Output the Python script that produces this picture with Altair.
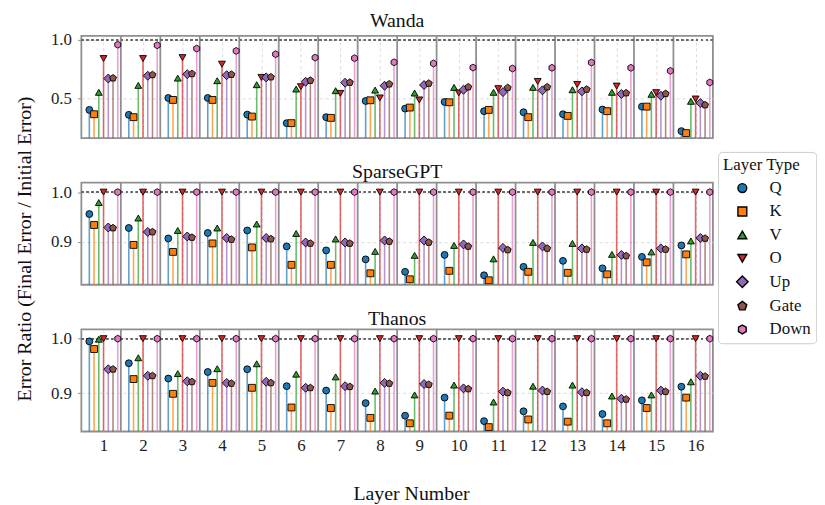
import altair as alt
import pandas as pd

# ---------------- data ----------------
layers = list(range(1, 17))
layer_types = ["Q", "K", "V", "O", "Up", "Gate", "Down"]
type_colors = ["#1f77b4", "#ff7f0e", "#2ca02c", "#d62728", "#9467bd", "#8c564b", "#e377c2"]
DIAMOND = "M0,-1.3L1.3,0L0,1.3L-1.3,0Z"
PENTAGON = "M0,-1.05L1.0,-0.32L0.62,0.85L-0.62,0.85L-1.0,-0.32Z"
HEXAGON = "M0,-1L0.866,-0.5L0.866,0.5L0,1L-0.866,0.5L-0.866,-0.5Z"
type_shapes = ["circle", "square", "triangle-up", "triangle-down", DIAMOND, PENTAGON, HEXAGON]

wanda_q = [0.404, 0.362, 0.506, 0.506, 0.364, 0.291, 0.342, 0.480, 0.415, 0.472, 0.393, 0.384, 0.367, 0.407, 0.432, 0.223]
wanda_k = [0.367, 0.342, 0.489, 0.489, 0.347, 0.291, 0.336, 0.486, 0.424, 0.469, 0.404, 0.342, 0.353, 0.393, 0.432, 0.206]
wanda_v = [0.554, 0.613, 0.675, 0.653, 0.619, 0.582, 0.568, 0.573, 0.548, 0.596, 0.554, 0.596, 0.576, 0.554, 0.537, 0.477]
wanda_o = [0.842, 0.842, 0.850, 0.794, 0.681, 0.602, 0.545, 0.506, 0.489, 0.548, 0.585, 0.647, 0.621, 0.607, 0.551, 0.497]
wanda_up = [0.672, 0.695, 0.709, 0.700, 0.681, 0.644, 0.636, 0.610, 0.616, 0.576, 0.556, 0.571, 0.562, 0.540, 0.525, 0.463]
wanda_gate = [0.675, 0.703, 0.712, 0.706, 0.684, 0.655, 0.638, 0.624, 0.630, 0.599, 0.593, 0.599, 0.579, 0.548, 0.542, 0.446]
wanda_down = [0.960, 0.955, 0.927, 0.907, 0.879, 0.850, 0.845, 0.810, 0.800, 0.765, 0.757, 0.763, 0.808, 0.763, 0.737, 0.638]

sparsegpt_q = [0.956, 0.928, 0.907, 0.918, 0.923, 0.891, 0.883, 0.865, 0.840, 0.874, 0.833, 0.850, 0.862, 0.847, 0.870, 0.893]
sparsegpt_k = [0.934, 0.894, 0.880, 0.897, 0.889, 0.854, 0.854, 0.837, 0.825, 0.842, 0.823, 0.840, 0.838, 0.835, 0.859, 0.875]
sparsegpt_v = [0.979, 0.948, 0.923, 0.928, 0.936, 0.917, 0.906, 0.881, 0.873, 0.893, 0.866, 0.899, 0.897, 0.875, 0.880, 0.902]
sparsegpt_o = [1.000] * 16
sparsegpt_up = [0.929, 0.920, 0.911, 0.908, 0.908, 0.899, 0.899, 0.903, 0.903, 0.895, 0.888, 0.891, 0.887, 0.874, 0.887, 0.908]
sparsegpt_gate = [0.928, 0.920, 0.909, 0.905, 0.906, 0.897, 0.897, 0.901, 0.899, 0.891, 0.884, 0.887, 0.885, 0.872, 0.885, 0.907]
sparsegpt_down = [1.000] * 16

thanos_q = [0.995, 0.955, 0.927, 0.939, 0.944, 0.913, 0.905, 0.882, 0.859, 0.892, 0.849, 0.867, 0.876, 0.862, 0.887, 0.912]
thanos_k = [0.981, 0.926, 0.899, 0.919, 0.910, 0.874, 0.873, 0.855, 0.845, 0.859, 0.838, 0.852, 0.848, 0.845, 0.873, 0.892]
thanos_v = [0.999, 0.965, 0.936, 0.945, 0.954, 0.935, 0.930, 0.904, 0.897, 0.915, 0.884, 0.913, 0.915, 0.895, 0.897, 0.921]
thanos_o = [1.000] * 16
thanos_up = [0.944, 0.932, 0.922, 0.919, 0.921, 0.910, 0.913, 0.919, 0.917, 0.909, 0.903, 0.905, 0.902, 0.890, 0.905, 0.932]
thanos_gate = [0.944, 0.932, 0.921, 0.918, 0.919, 0.910, 0.912, 0.918, 0.916, 0.908, 0.901, 0.903, 0.901, 0.889, 0.903, 0.931]
thanos_down = [1.000] * 16

panels = [
    ("Wanda", [wanda_q, wanda_k, wanda_v, wanda_o, wanda_up, wanda_gate, wanda_down], 0.164, 1.035, [0.5, 1.0]),
    ("SparseGPT", [sparsegpt_q, sparsegpt_k, sparsegpt_v, sparsegpt_o, sparsegpt_up, sparsegpt_gate, sparsegpt_down], 0.814, 1.019, [0.9, 1.0]),
    ("Thanos", [thanos_q, thanos_k, thanos_v, thanos_o, thanos_up, thanos_gate, thanos_down], 0.830, 1.017, [0.9, 1.0]),
]

# ---------------- style ----------------
FONT = "Liberation Serif"
W, H = 637, 103
GAP = 45             # vertical gap between panel plot areas
STEP = 0.12          # horizontal spacing between the stems of one layer
LEFT_PAD = 0.562     # layer band extends this far left of the tick
FRAME = "#8f8f8f"
GRID = "#dadada"

cscale = alt.Scale(domain=layer_types, range=type_colors)
# stems: same colours, domain listed in reverse so this (legend-less) scale is not merged with the legend
stem_scale = alt.Scale(domain=layer_types[::-1], range=type_colors[::-1])
sscale = alt.Scale(domain=layer_types, range=type_shapes)
xscale = alt.Scale(domain=[layers[0] - LEFT_PAD, layers[-1] + 1 - LEFT_PAD], nice=False, zero=False)
sep_df = pd.DataFrame({"pos": [l + 1 - LEFT_PAD for l in layers[:-1]]})

legend = alt.Legend(
    title="Layer Type", orient="none", legendX=642.2, legendY=117,
    titleFont=FONT, labelFont=FONT, titleFontSize=17, labelFontSize=17,
    titleFontWeight="normal", titleColor="#111", labelColor="#111",
    symbolSize=80, symbolStrokeColor="black", symbolStrokeWidth=1.4,
    symbolOffset=11, labelOffset=19, rowPadding=5.6, padding=5, titlePadding=6,
    strokeColor="#cccccc", fillColor="white", cornerRadius=4,
)


def make_panel(idx, name, series, lo, hi, ticks):
    rows = []
    for j, (t, vals) in enumerate(zip(layer_types, series)):
        for l, v in zip(layers, vals):
            rows.append({"layer": l, "xpos": l + (j - 3) * STEP, "type": t, "stem": t, "value": v, "ord": j})
    df = pd.DataFrame(rows)
    yscale = alt.Scale(domain=[lo, hi], nice=False, zero=False)
    bottom = idx == len(panels) - 1
    top = idx == 0

    if bottom:
        xaxis = alt.Axis(values=layers, labelFontSize=17, labelPadding=6, ticks=False, domain=False,
                         grid=True, gridDash=[3, 3], gridColor=GRID, title="Layer Number",
                         titleFontSize=20, titleFontWeight="normal", titlePadding=31, titleX=W / 2 + 14)
    else:
        xaxis = alt.Axis(values=layers, labels=False, ticks=False, domain=False,
                         grid=True, gridDash=[3, 3], gridColor=GRID, title="")
    yaxis_kw = dict(values=ticks, format=".1f", labelFontSize=17, tickSize=4, tickColor=FRAME,
                    labelPadding=6, domain=False, grid=True, gridDash=[3, 3], gridColor=GRID)
    if top:
        # one y title for the whole figure, centred on the three panels
        yaxis = alt.Axis(title="Error Ratio (Final Error / Initial Error)", titleFontSize=20,
                         titleFontWeight="normal", titlePadding=16,
                         titleY=(3 * H + 2 * GAP) / 2 + 15, **yaxis_kw)
    else:
        yaxis = alt.Axis(title="", **yaxis_kw)

    X = lambda f: alt.X(f, scale=xscale, axis=xaxis)
    Y = lambda f: alt.Y(f, scale=yscale, axis=yaxis)

    base = alt.Chart(df)
    stems = base.mark_rule(strokeWidth=1.6, opacity=0.7).encode(
        x=X("xpos:Q"),
        y=Y("value:Q"),
        y2=alt.datum(lo),
        stroke=alt.Stroke("stem:N", scale=stem_scale, legend=None),
    )
    seps = alt.Chart(sep_df).mark_rule(color=FRAME, strokeWidth=1.8).encode(x=X("pos:Q"))
    ref = alt.Chart(sep_df).mark_rule(color="#6b6b6b", strokeDash=[2, 3], strokeWidth=1.5).encode(
        y=alt.Y(datum=1.0, scale=yscale, axis=yaxis)
    )
    pts = base.mark_point(filled=True, size=48, stroke="black", strokeWidth=0.9, opacity=1).encode(
        x=X("xpos:Q"),
        y=Y("value:Q"),
        color=alt.Color("type:N", scale=cscale, legend=legend),
        shape=alt.Shape("type:N", scale=sscale, legend=legend),
        order=alt.Order("ord:Q"),
    )
    return alt.layer(stems, seps, ref, pts).properties(
        width=W, height=H,
        title=alt.TitleParams(name, fontSize=20, fontWeight="normal", font=FONT, offset=0,
                              anchor="middle", frame="group"),
    )


charts = [make_panel(i, *p) for i, p in enumerate(panels)]

chart = (
    alt.vconcat(*charts, spacing=GAP, bounds="flush")
    .properties(padding={"left": 5, "top": 0, "right": 0, "bottom": 0})
    .configure_view(stroke=FRAME, strokeWidth=1.8)
    .configure_axis(labelFont=FONT, titleFont=FONT, labelColor="#222", titleColor="#111")
    .configure_title(font=FONT, color="#111")
)

chart.save("out.html", embed_options={"renderer": "svg", "actions": False})
